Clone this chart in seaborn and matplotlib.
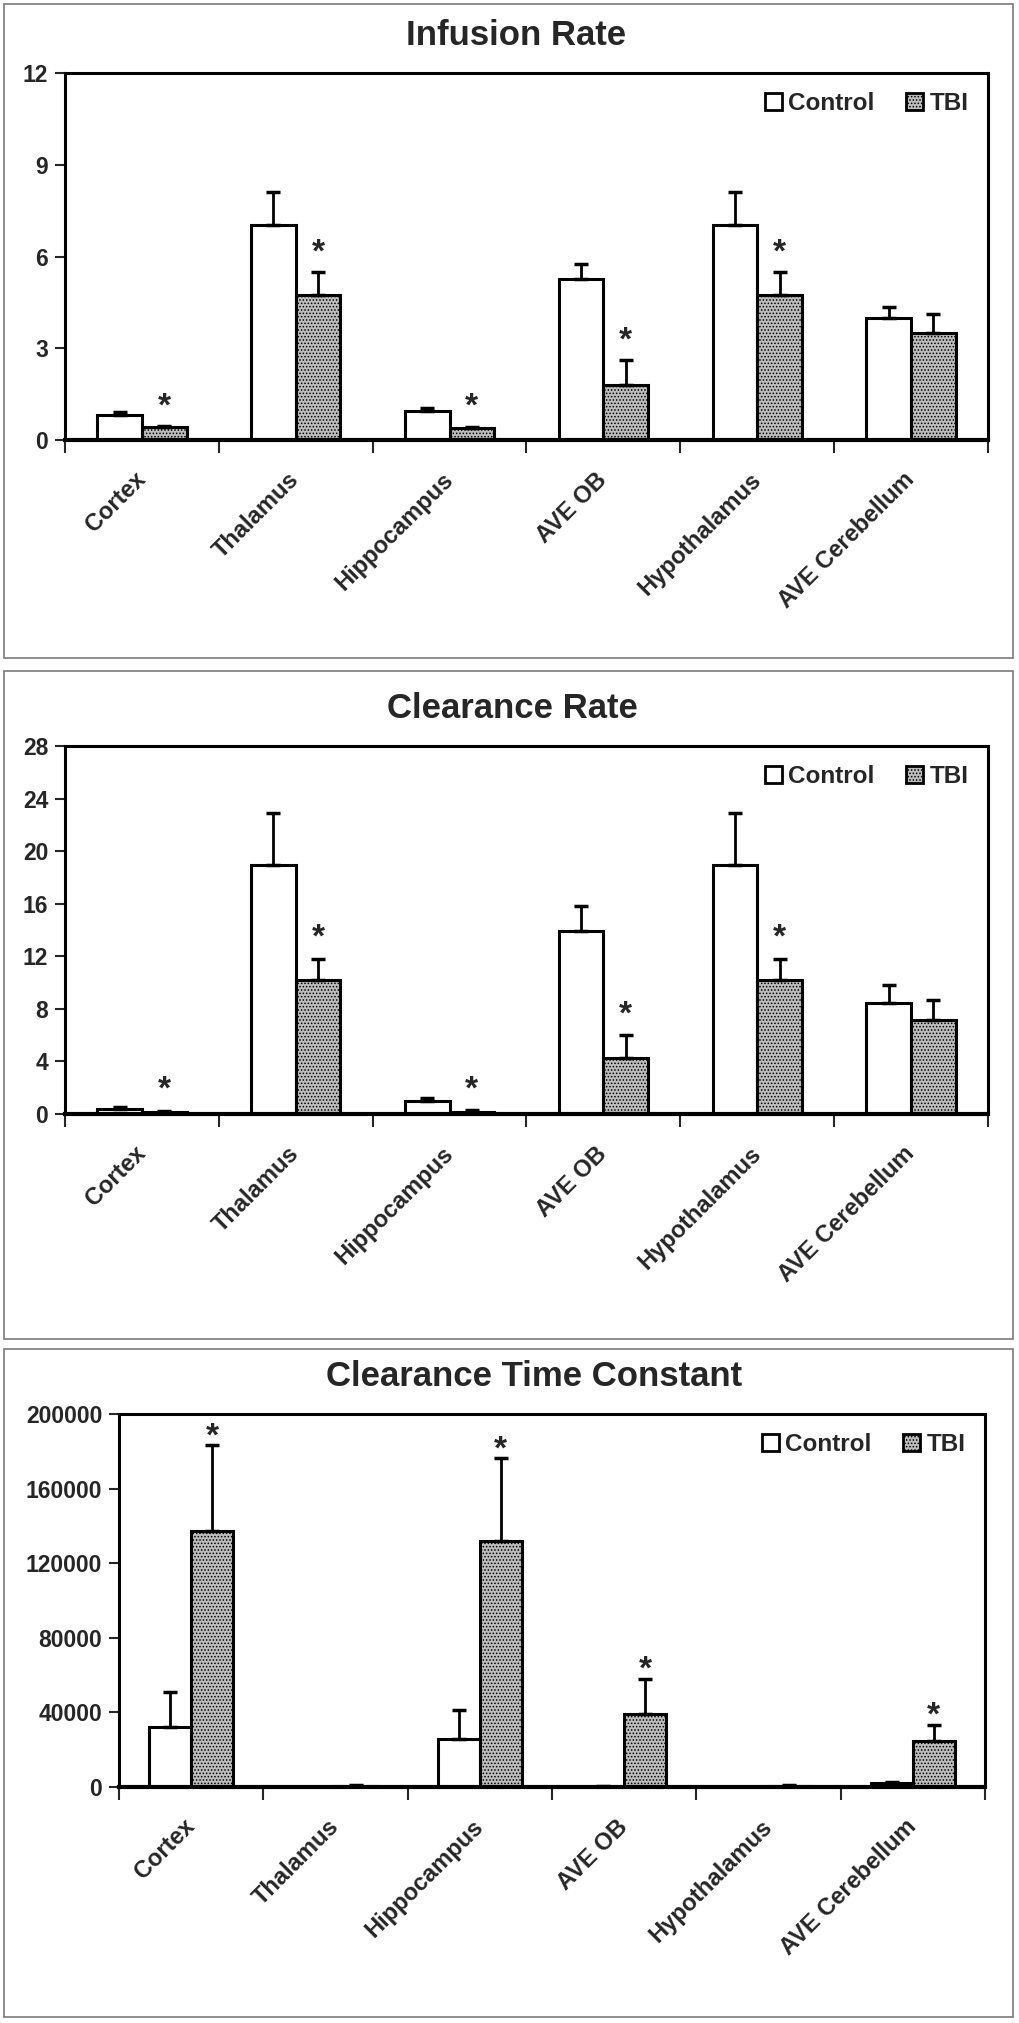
import numpy as np
import pandas as pd
import seaborn as sns
import matplotlib
matplotlib.use('Agg')
import matplotlib.pyplot as plt
from matplotlib.patches import Rectangle, Patch
from matplotlib.transforms import ScaledTranslation

# categories and groups
regions = ['Cortex', 'Thalamus', 'Hippocampus', 'AVE OB', 'Hypothalamus', 'AVE Cerebellum']
groups = ['Control', 'TBI']

# Infusion Rate (mean, upper error)
inf_control = [0.82, 7.04, 0.94, 5.28, 7.04, 4.00]
inf_control_err = [0.10, 1.08, 0.09, 0.48, 1.08, 0.35]
inf_tbi = [0.42, 4.74, 0.39, 1.81, 4.74, 3.50]
inf_tbi_err = [0.03, 0.75, 0.05, 0.80, 0.75, 0.62]
inf_star = [True, True, True, True, True, False]

# Clearance Rate
clr_control = [0.37, 18.97, 1.00, 13.90, 18.97, 8.42]
clr_control_err = [0.13, 3.93, 0.24, 1.90, 3.93, 1.37]
clr_tbi = [0.13, 10.22, 0.13, 4.28, 10.22, 7.18]
clr_tbi_err = [0.10, 1.58, 0.14, 1.72, 1.58, 1.51]
clr_star = [True, True, True, True, True, False]

# Clearance Time Constant
ctc_control = [32000, 0, 25600, 200, 0, 2100]
ctc_control_err = [18800, 0, 15800, 300, 0, 700]
ctc_tbi = [137000, 600, 131800, 39000, 700, 24900]
ctc_tbi_err = [46300, 400, 44400, 19100, 400, 8500]
ctc_star = [True, False, True, True, False, True]

sns.set_style('white')
plt.rcParams['font.family'] = ['Liberation Sans', 'DejaVu Sans']
plt.rcParams['font.weight'] = 'bold'
plt.rcParams['hatch.linewidth'] = 0.7

W, H = 1020, 2023
fig = plt.figure(figsize=(W / 100, H / 100), dpi=100)

def frac(left, top, right, bottom):
    return [left / W, 1 - bottom / H, (right - left) / W, (bottom - top) / H]

panels = [
    dict(title='Infusion Rate', ctrl=inf_control, ctrl_err=inf_control_err,
         tbi=inf_tbi, tbi_err=inf_tbi_err, star=inf_star,
         ymax=12, step=3, rect=frac(65, 73, 988, 440), tx=0.489, star_off=11,
         box=(4, 4, 1013, 658)),
    dict(title='Clearance Rate', ctrl=clr_control, ctrl_err=clr_control_err,
         tbi=clr_tbi, tbi_err=clr_tbi_err, star=clr_star,
         ymax=28, step=4, rect=frac(65, 746, 988, 1114), tx=0.485, star_off=12,
         box=(4, 671, 1013, 1339)),
    dict(title='Clearance Time Constant', ctrl=ctc_control, ctrl_err=ctc_control_err,
         tbi=ctc_tbi, tbi_err=ctc_tbi_err, star=ctc_star,
         ymax=200000, step=40000, rect=frac(119, 1414, 985, 1787), tx=0.479, star_off=0,
         box=(4, 1349, 1013, 2017)),
]

for p in panels:
    # panel frame
    x0, y0, x1, y1 = p['box']
    fig.patches.append(Rectangle((x0 / W, 1 - y1 / H), (x1 - x0) / W, (y1 - y0) / H,
                                 transform=fig.transFigure, fill=False,
                                 edgecolor='#7a7a7a', linewidth=1.2))

    ax = fig.add_axes(p['rect'])
    df = pd.DataFrame({
        'Region': regions * 2,
        'Group': ['Control'] * 6 + ['TBI'] * 6,
        'Value': list(p['ctrl']) + list(p['tbi']),
    })
    sns.barplot(data=df, x='Region', y='Value', hue='Group', order=regions,
                hue_order=groups, palette=['white', '#bdbdbd'], width=0.58,
                edgecolor='black', linewidth=2.2, saturation=1, legend=False, ax=ax)

    for bar in ax.containers[1]:
        bar.set_hatch('.....')

    # upper error bars
    for cont, err in zip(ax.containers, [p['ctrl_err'], p['tbi_err']]):
        xs = [b.get_x() + b.get_width() / 2 for b in cont]
        ys = [b.get_height() for b in cont]
        ax.errorbar(xs, ys, yerr=[np.zeros(len(err)), err], fmt='none',
                    ecolor='black', elinewidth=2, capsize=5, capthick=2.5, zorder=1)

    # significance stars
    for b, e, s in zip(ax.containers[1], p['tbi_err'], p['star']):
        if s:
            ax.annotate('*', xy=(b.get_x() + b.get_width() / 2, b.get_height() + e),
                        xytext=(0, p['star_off']), textcoords='offset pixels',
                        ha='center', va='baseline', fontsize=24, fontweight='bold')

    ax.set_ylim(0, p['ymax'])
    ax.set_yticks(np.arange(0, p['ymax'] + 1, p['step']))
    ax.set_xlim(-0.5, 5.5)
    ax.set_xlabel('')
    ax.set_ylabel('')
    ax.set_xticks(range(len(regions)))
    ax.set_xticks(np.arange(-0.5, 6, 1), minor=True)
    ax.set_xticklabels(regions, rotation=45, ha='right', va='center',
                       rotation_mode='anchor', fontsize=17, fontweight='bold')
    shift = ScaledTranslation(-0.10, 0.0, fig.dpi_scale_trans)
    for lab in ax.get_xticklabels():
        lab.set_transform(lab.get_transform() + shift)
    ax.tick_params(axis='x', which='major', length=0, pad=26)
    ax.tick_params(axis='x', which='minor', length=9, width=1.5, direction='out', bottom=True)
    ax.tick_params(axis='y', length=7, width=1.5, direction='out', left=True,
                   labelsize=16.5, pad=5)
    for lab in ax.get_yticklabels():
        lab.set_fontweight('bold')

    for side in ['top', 'right', 'left']:
        ax.spines[side].set_linewidth(2.2)
        ax.spines[side].set_color('black')
    ax.spines['bottom'].set_linewidth(3)
    ax.spines['bottom'].set_color('black')

    ax.set_title(p['title'], x=p['tx'], fontsize=25, fontweight='bold', pad=20)

    handles = [Patch(facecolor='white', edgecolor='black', linewidth=2),
               Patch(facecolor='#bdbdbd', edgecolor='black', linewidth=2, hatch='.....')]
    ax.legend(handles, groups, loc='upper right', ncol=2, frameon=False,
              prop={'size': 17.5, 'weight': 'bold'}, handlelength=0.7,
              handleheight=0.7, handletextpad=0.25, columnspacing=1.3,
              borderpad=0.4, borderaxespad=0.4)

fig.savefig('out.png', dpi=100)
